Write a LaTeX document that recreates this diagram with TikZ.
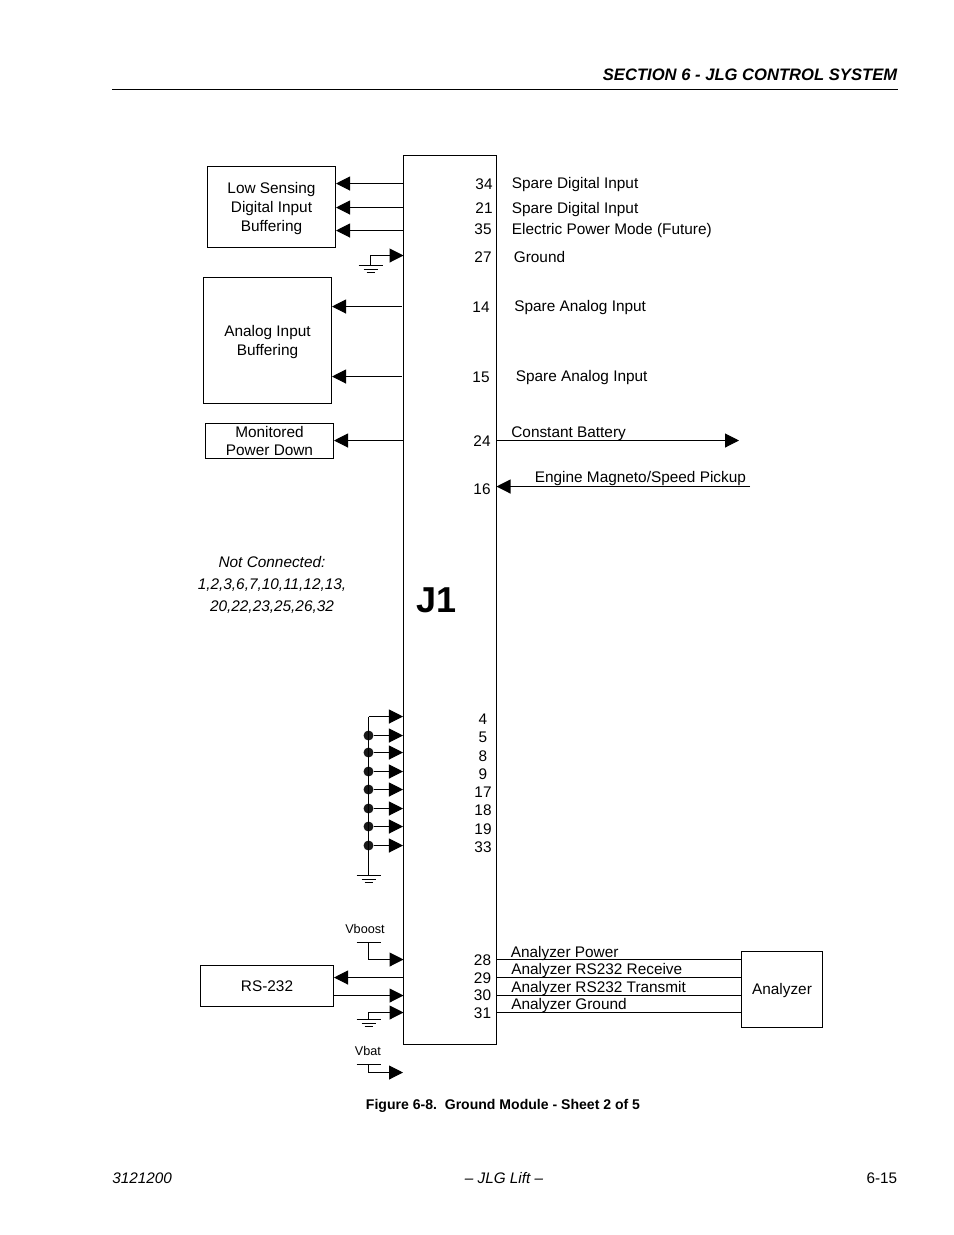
\documentclass[tikz,border=0pt]{standalone}
\usepackage{fontspec}
\setmainfont{Liberation Sans}
\usetikzlibrary{arrows.meta}
\def\groundbars(#1,#2){\draw[wire] (#1-12,#2) -- (#1+12,#2); \draw[wire] (#1-7,#2+4) -- (#1+7,#2+4); \draw[wire] (#1-4,#2+7) -- (#1+4,#2+7);}
\tikzset{
	wire/.style={line width=0.6pt, color=black},
	sig/.style={wire, -{Triangle[length=0.28cm,width=0.28cm]}},
	block/.style={draw, line width=0.6pt, align=center, inner sep=0pt},
	lbl/.style={inner sep=0pt, anchor=west},
	pin/.style={inner sep=0pt},
	dot/.style={circle, fill=black!90, inner sep=0pt, minimum size=0.2cm}
}

\begin{document}
\begin{tikzpicture}[x=0.02cm, y=-0.02cm, font=\fontsize{8.75}{10.8}\selectfont]
		%%%%% START %%%%%
		\useasboundingbox (0, 0) rectangle (954, 1235);
		
		% page furniture
		\node[pin, anchor=east] (section) at (897.5, 75) {\fontsize{9.45}{12}\selectfont\bfseries\itshape SECTION 6 - JLG CONTROL SYSTEM};
		\draw[wire] (112, 89.5) -- (897.5, 89.5);
		\node[pin] (caption) at (503, 1106) {\fontsize{8}{10}\selectfont\bfseries Figure 6-8.~~Ground Module - Sheet 2 of 5};
		\node[pin, anchor=west] (docno) at (112, 1178) {\fontsize{8.7}{11}\selectfont\itshape 3121200};
		\node[pin] (maker) at (504, 1178) {\fontsize{8.7}{11}\selectfont\itshape -- JLG Lift --};
		\node[pin, anchor=east] (pageno) at (897.5, 1178) {\fontsize{8.7}{11}\selectfont 6-15};
		
		% connector body
		\node[block, minimum width=1.86cm, minimum height=17.78cm] (jone) at (450, 600) {};
		\node[pin, anchor=west] (jonetext) at (416.5, 600) {\fontsize{20.5}{24}\selectfont\bfseries J1};
		
		% blocks on the left
		\node[block, minimum width=2.56cm, minimum height=1.62cm] (lowbuf) at (271.5, 207) {\rule{0pt}{7.6pt}Low Sensing\\Digital Input\\Buffering};
		\node[block, minimum width=2.56cm, minimum height=2.52cm] (analogbuf) at (267.5, 340.5) {\rule{0pt}{7.6pt}Analog Input\\Buffering};
		\node[block, minimum width=2.56cm, minimum height=0.70cm] (monitor) at (269.5, 441) {Monitored\\Power Down};
		\node[block, minimum width=2.66cm, minimum height=0.82cm] (rstwo) at (267, 986) {RS-232};
		\node[block, minimum width=1.62cm, minimum height=1.52cm] (analyzer) at (782, 989.5) {\rule{0pt}{7.2pt}Analyzer};
		
		\node[pin, font=\fontsize{8.75}{12.5}\selectfont\itshape, align=center] (notconn) at (272, 585) {Not Connected:\\1,2,3,6,7,10,11,12,13,\\20,22,23,25,26,32};
		
		% upper pins
		\coordinate (p34) at (403.5, 183.5);
		\coordinate (p21) at (403.5, 207.5);
		\coordinate (p35) at (403.5, 230.5);
		\coordinate (p27) at (403.5, 255.5);
		\coordinate (p14) at (401.5, 306.5);
		\coordinate (p15) at (401.5, 376.5);
		\coordinate (p24) at (403.5, 440.5);
		\coordinate (g27) at (370.5, 265.5);
		\coordinate (q24) at (496.5, 440.5);
		\coordinate (q16) at (496.5, 486.5);
		\coordinate (batt) at (739, 440.5);
		\coordinate (pickup) at (750, 486.5);
		
		\draw[sig] (p34) -- (lowbuf.east |- p34);
		\draw[sig] (p21) -- (lowbuf.east |- p21);
		\draw[sig] (p35) -- (lowbuf.east |- p35);
		\draw[sig] (g27) |- (p27);
		\groundbars(370.5,265.5);
		\draw[sig] (p14) -- (analogbuf.east |- p14);
		\draw[sig] (p15) -- (analogbuf.east |- p15);
		\draw[sig] (p24) -- (monitor.east |- p24);
		\draw[sig] (q24) -- (batt);
		\draw[sig] (pickup) -- (q16);
		
		\node[pin] (n34) at (484, 184) {34};
		\node[pin] (n21) at (484, 208) {21};
		\node[pin] (n35) at (483, 229) {35};
		\node[pin] (n27) at (483, 257) {27};
		\node[pin] (n14) at (481, 307) {14};
		\node[pin] (n15) at (481, 377) {15};
		\node[pin] (n24) at (482, 441) {24};
		\node[pin] (n16) at (482, 489) {16};
		
		\node[lbl] (t34) at (511.5, 185) {Spare Digital Input};
		\node[lbl] (t21) at (511.5, 210) {Spare Digital Input};
		\node[lbl] (t35) at (511.5, 231) {Electric Power Mode (Future)};
		\node[lbl] (t27) at (513.5, 257) {Ground};
		\node[lbl] (t14) at (514, 308) {Spare Analog Input};
		\node[lbl] (t15) at (515.5, 378) {Spare Analog Input};
		\node[lbl] (t24) at (511, 434) {Constant Battery};
		\node[lbl] (t16) at (534.5, 479) {Engine Magneto/Speed Pickup};
		
		% tied pins
		\coordinate (c4) at (368.5, 716.5);
		\node[dot] (c5) at (368.5, 735.5) {};
		\node[dot] (c8) at (368.5, 752.5) {};
		\node[dot] (c9) at (368.5, 771.5) {};
		\node[dot] (c17) at (368.5, 789.5) {};
		\node[dot] (c18) at (368.5, 808.5) {};
		\node[dot] (c19) at (368.5, 826.5) {};
		\node[dot] (c33) at (368.5, 845.5) {};
		\coordinate (g33) at (368.5, 875.5);
		
		\draw[sig] (c4) -- (c4 -| jone.west);
		\draw[sig] (c5) -- (c5 -| jone.west);
		\draw[sig] (c8) -- (c8 -| jone.west);
		\draw[sig] (c9) -- (c9 -| jone.west);
		\draw[sig] (c17) -- (c17 -| jone.west);
		\draw[sig] (c18) -- (c18 -| jone.west);
		\draw[sig] (c19) -- (c19 -| jone.west);
		\draw[sig] (c33) -- (c33 -| jone.west);
		\draw[wire] (c4) -- (g33);
		\groundbars(368.5,875.5);
		
		\node[pin] (n4) at (483, 719) {4};
		\node[pin] (n5) at (483, 737) {5};
		\node[pin] (n8) at (483, 756) {8};
		\node[pin] (n9) at (483, 774) {9};
		\node[pin] (n17) at (483, 792) {17};
		\node[pin] (n18) at (483, 810) {18};
		\node[pin] (n19) at (483, 829) {19};
		\node[pin] (n33) at (483, 847) {33};
		
		% lower pins
		\coordinate (p28) at (403.5, 959.5);
		\coordinate (p29) at (403.5, 977.5);
		\coordinate (p30) at (403.5, 995.5);
		\coordinate (p31) at (403.5, 1012.5);
		\coordinate (q28) at (496.5, 959.5);
		\coordinate (q29) at (496.5, 977.5);
		\coordinate (q30) at (496.5, 995.5);
		\coordinate (q31) at (496.5, 1012.5);
		\coordinate (boost) at (368.5, 942.5);
		\coordinate (g31) at (368.5, 1019.5);
		\coordinate (bat) at (368.5, 1064.5);
		\coordinate (batend) at (403, 1072.5);
		
		\draw[wire] (356.5, 942.5) -- (380.5, 942.5);
		\draw[sig] (boost) |- (p28);
		\node[pin, font=\fontsize{7.2}{9}\selectfont] (vboost) at (365, 929) {Vboost};
		\draw[sig] (p29) -- (rstwo.east |- p29);
		\draw[sig] (rstwo.east |- p30) -- (p30);
		\draw[sig] (g31) |- (p31);
		\groundbars(368.5,1019.5);
		\draw[wire] (356.5, 1064.5) -- (380.5, 1064.5);
		\draw[sig] (bat) |- (batend);
		\node[pin, font=\fontsize{7.2}{9}\selectfont] (vbat) at (368, 1051) {Vbat};
		
		\draw[wire] (q28) -- (analyzer.west |- q28);
		\draw[wire] (q29) -- (analyzer.west |- q29);
		\draw[wire] (q30) -- (analyzer.west |- q30);
		\draw[wire] (q31) -- (analyzer.west |- q31);
		
		\node[pin] (n28) at (482.5, 960) {28};
		\node[pin] (n29) at (482.5, 978) {29};
		\node[pin] (n30) at (482.5, 995) {30};
		\node[pin] (n31) at (482.5, 1013) {31};
		
		\node[lbl] (t28) at (510.5, 954) {Analyzer Power};
		\node[lbl] (t29) at (511, 971) {Analyzer RS232 Receive};
		\node[lbl] (t30) at (511, 989) {Analyzer RS232 Transmit};
		\node[lbl] (t31) at (511, 1006) {Analyzer Ground};
		
		%%%%% END %%%%%
	\end{tikzpicture}
\end{document}
